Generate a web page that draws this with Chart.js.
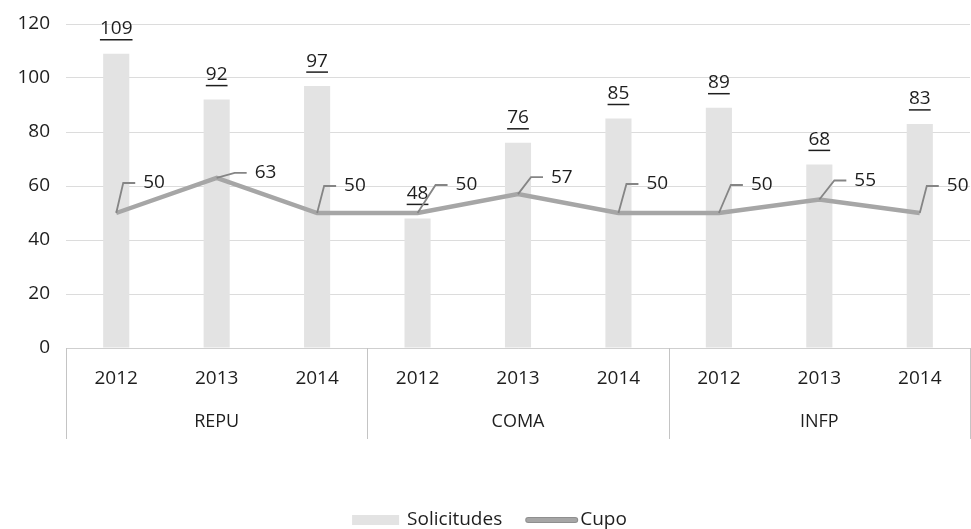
<!DOCTYPE html>
<html>
<head>
<meta charset="utf-8">
<script src="https://cdn.jsdelivr.net/npm/chart.js@4.4.1/dist/chart.umd.min.js"></script>
<style>
  html, body { margin: 0; padding: 0; background: #fff; }
  #wrap { width: 971px; height: 529px; }
</style>
</head>
<body>
<div id="wrap"><canvas id="chart"></canvas></div>
<script>
const years = ["2012", "2013", "2014", "2012", "2013", "2014", "2012", "2013", "2014"];
const groups = ["REPU", "COMA", "INFP"];
const solicitudes = [109, 92, 97, 48, 76, 85, 89, 68, 83];
const cupo = [50, 63, 50, 50, 57, 50, 50, 55, 50];
const yTicks = [0, 20, 40, 60, 80, 100, 120];

// where each Cupo label sits relative to its point (dx to text start, dy to text middle)
const cupoLabelOffsets = [[27, -30], [38, -5], [27, -27], [38, -28], [33, -17], [28, -29], [32, -28], [35, -19], [27, -27]];

const FONT = "'Open Sans', 'Noto Sans', sans-serif";
const TEXT = "#1e1e1e";
const BAR = "#e3e3e3";
const LINE = "#a6a6a6";

// draws the value labels, the leader lines, the group row of the x axis and the legend
const labelsPlugin = {
  id: "labels",
  afterDatasetsDraw(chart) {
    const ctx = chart.ctx;
    const barMeta = chart.getDatasetMeta(1);
    const lineMeta = chart.getDatasetMeta(0);
    ctx.save();
    ctx.font = "19px " + FONT;
    ctx.fillStyle = TEXT;
    ctx.textBaseline = "middle";

    // bar values, underlined
    ctx.textAlign = "center";
    barMeta.data.forEach((bar, i) => {
      const txt = String(solicitudes[i]);
      const w = ctx.measureText(txt).width;
      const cy = bar.y - 25;
      ctx.fillText(txt, bar.x, cy);
      ctx.strokeStyle = TEXT;
      ctx.lineWidth = 1.5;
      ctx.beginPath();
      ctx.moveTo(bar.x - w / 2, cy + 11);
      ctx.lineTo(bar.x + w / 2, cy + 11);
      ctx.stroke();
    });

    // cupo values with leader lines
    ctx.textAlign = "left";
    lineMeta.data.forEach((pt, i) => {
      const [dx, dy] = cupoLabelOffsets[i];
      const tx = pt.x + dx;
      const ty = pt.y + dy;
      ctx.strokeStyle = "#858585";
      ctx.lineWidth = 1.8;
      ctx.beginPath();
      ctx.moveTo(pt.x, pt.y);
      ctx.lineTo(tx - 20, ty);
      ctx.lineTo(tx - 8, ty);
      ctx.stroke();
      ctx.fillText(String(cupo[i]), tx, ty);
    });
    ctx.restore();
  },
  afterDraw(chart) {
    const ctx = chart.ctx;
    const x = chart.scales.x;
    const area = chart.chartArea;
    ctx.save();
    // group separators
    ctx.strokeStyle = "#c4c4c4";
    ctx.lineWidth = 1;
    const seps = [x.left];
    for (let g = 1; g < groups.length; g++) {
      seps.push((x.getPixelForValue(g * 3 - 1) + x.getPixelForValue(g * 3)) / 2);
    }
    seps.push(x.right);
    seps.forEach(sx => {
      ctx.beginPath();
      ctx.moveTo(Math.round(sx) + 0.5, area.bottom);
      ctx.lineTo(Math.round(sx) + 0.5, area.bottom + 91);
      ctx.stroke();
    });
    // group names
    ctx.font = "18px " + FONT;
    ctx.fillStyle = TEXT;
    ctx.textAlign = "center";
    ctx.textBaseline = "middle";
    groups.forEach((g, i) => {
      ctx.fillText(g, x.getPixelForValue(i * 3 + 1), area.bottom + 74);
    });

    // legend
    const ly = chart.height - 9;
    ctx.font = "19px " + FONT;
    ctx.textAlign = "left";
    const names = [chart.data.datasets[1].label, chart.data.datasets[0].label];
    const w1 = ctx.measureText(names[0]).width;
    const w2 = ctx.measureText(names[1]).width;
    const total = 47 + 8 + w1 + 23 + 53 + 2 + w2;
    let lx = chart.width / 2 + 4 - total / 2;
    ctx.fillStyle = BAR;
    ctx.fillRect(lx, ly - 5, 47, 10);
    lx += 47 + 8;
    ctx.fillStyle = TEXT;
    ctx.fillText(names[0], lx, ly);
    lx += w1 + 23;
    ctx.lineCap = "round";
    ctx.strokeStyle = "#8f8f8f";
    ctx.lineWidth = 6;
    ctx.beginPath();
    ctx.moveTo(lx + 3, ly);
    ctx.lineTo(lx + 50, ly);
    ctx.stroke();
    ctx.strokeStyle = LINE;
    ctx.lineWidth = 4;
    ctx.stroke();
    lx += 53 + 2;
    ctx.fillStyle = TEXT;
    ctx.fillText(names[1], lx, ly);
    ctx.restore();
  }
};

new Chart(document.getElementById("chart"), {
  data: {
    labels: years,
    datasets: [
      {
        type: "line",
        label: "Cupo",
        data: cupo,
        borderColor: LINE,
        backgroundColor: LINE,
        borderWidth: 4.5,
        pointRadius: 0,
        tension: 0,
        order: 0
      },
      {
        type: "bar",
        label: "Solicitudes",
        data: solicitudes,
        backgroundColor: BAR,
        borderWidth: 0,
        barPercentage: 0.26,
        categoryPercentage: 1,
        order: 1
      }
    ]
  },
  options: {
    responsive: true,
    maintainAspectRatio: false,
    animation: false,
    layout: { padding: { top: 24, right: 1, left: 0, bottom: 24 } },
    plugins: {
      tooltip: { enabled: false },
      legend: { display: false }
    },
    scales: {
      x: {
        grid: { display: false, drawTicks: false },
        border: { display: true, color: "#cfcfcf" },
        ticks: { color: TEXT, font: { family: FONT, size: 19 }, padding: 19, maxRotation: 0, autoSkip: false },
        afterFit(scale) { scale.height = 157; }
      },
      y: {
        min: 0,
        max: 120,
        grid: { color: "#dcdcdc", drawTicks: false },
        border: { display: false },
        ticks: { color: TEXT, font: { family: FONT, size: 19, lineHeight: 0.8 }, padding: 16 },
        afterBuildTicks(scale) { scale.ticks = yTicks.map(v => ({ value: v })); },
        afterFit(scale) { scale.width = 66; }
      }
    }
  },
  plugins: [labelsPlugin]
});
</script>
</body>
</html>
